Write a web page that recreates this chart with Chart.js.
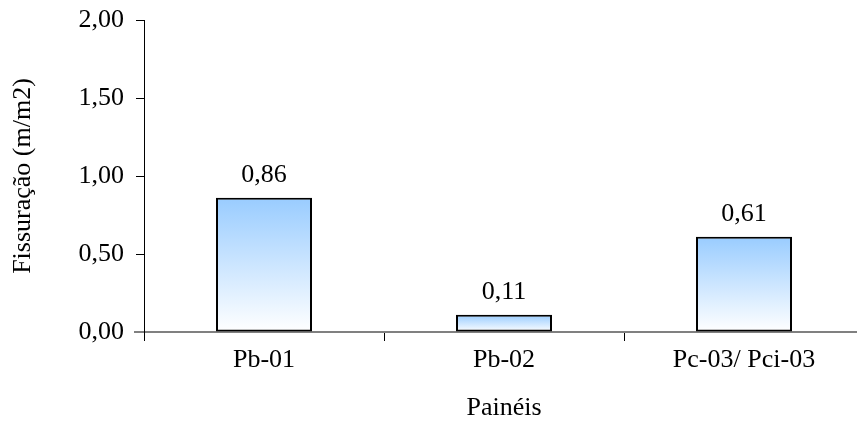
<!DOCTYPE html>
<html>
<head>
<meta charset="utf-8">
<script src="https://cdn.jsdelivr.net/npm/chart.js@4"></script>
<style>
  html, body { margin: 0; padding: 0; background: #fff; overflow: hidden; }
  #wrap { width: 865px; height: 442px; }
</style>
</head>
<body>
<div id="wrap"><canvas id="c" width="865" height="442"></canvas></div>
<script>
const categories = ["Pb-01", "Pb-02", "Pc-03/ Pci-03"];
const values = [0.86, 0.11, 0.61];
const yTicks = [0, 0.5, 1, 1.5, 2];
const yTitle = "Fissuração (m/m2)";
const xTitle = "Painéis";

const FONT = "'Liberation Serif', 'Times New Roman', serif";
const FS = 26;
const fmt = v => v.toFixed(2).replace('.', ',');

const valueLabels = {
  id: 'valueLabels',
  afterDatasetsDraw(chart) {
    const c = chart.ctx;
    const meta = chart.getDatasetMeta(0);
    c.save();
    c.font = FS + "px " + FONT;
    c.fillStyle = '#000';
    c.textAlign = 'center';
    c.textBaseline = 'alphabetic';
    meta.data.forEach((bar, i) => {
      c.fillText(fmt(values[i]), bar.x, bar.y - 16);
    });
    c.restore();
  }
};

const axisStub = {
  id: 'axisStub',
  afterDraw(chart) {
    const c = chart.ctx;
    const y = chart.scales.y.getPixelForValue(0);
    const x = chart.chartArea.left;
    c.save();
    c.strokeStyle = '#808080';
    c.lineWidth = 2;
    c.beginPath();
    c.moveTo(x - 10, y);
    c.lineTo(x, y);
    c.stroke();
    c.restore();
  }
};

new Chart(document.getElementById('c'), {
  type: 'bar',
  data: {
    labels: categories,
    datasets: [{
      data: values,
      backgroundColor: (ctx) => {
        const chart = ctx.chart;
        if (!chart.chartArea || ctx.type !== 'data') return '#99ccff';
        const yTop = chart.scales.y.getPixelForValue(ctx.raw);
        const yBot = chart.scales.y.getPixelForValue(0);
        const g = chart.ctx.createLinearGradient(0, yTop, 0, yBot);
        g.addColorStop(0, '#99ccff');
        g.addColorStop(1, '#ffffff');
        return g;
      },
      borderColor: '#000',
      borderWidth: 2,
      borderSkipped: false,
      barPercentage: 0.4,
      categoryPercentage: 1
    }]
  },
  options: {
    responsive: false,
    animation: false,
    layout: { padding: { top: 20, right: 1, left: 0, bottom: 0 } },
    plugins: { legend: { display: false }, tooltip: { enabled: false } },
    scales: {
      x: {
        grid: { offset: true, drawOnChartArea: false, drawTicks: true, tickLength: 9, color: '#000', lineWidth: 1 },
        border: { color: '#808080', width: 2 },
        ticks: { color: '#000', font: { family: FONT, size: FS }, padding: 4 },
        title: { display: true, text: xTitle, color: '#000', font: { family: FONT, size: FS }, padding: { top: 4, bottom: 18 } },
        afterFit(s) { s.height = 110; }
      },
      y: {
        min: 0, max: 2,
        afterBuildTicks(s) { s.ticks = yTicks.map(v => ({ value: v })); },
        grid: { drawOnChartArea: false, drawTicks: true, tickLength: 8, color: '#000', lineWidth: 1 },
        border: { color: '#000', width: 1 },
        ticks: { color: '#000', font: { family: FONT, size: FS }, padding: 12, callback: v => fmt(v) },
        title: { display: true, text: yTitle, color: '#000', font: { family: FONT, size: FS }, padding: { top: 8, bottom: 6 } },
        afterFit(s) { s.width = 144; s.paddingTop = 0; s.paddingBottom = 0; }
      }
    }
  },
  plugins: [valueLabels, axisStub]
});
</script>
</body>
</html>
